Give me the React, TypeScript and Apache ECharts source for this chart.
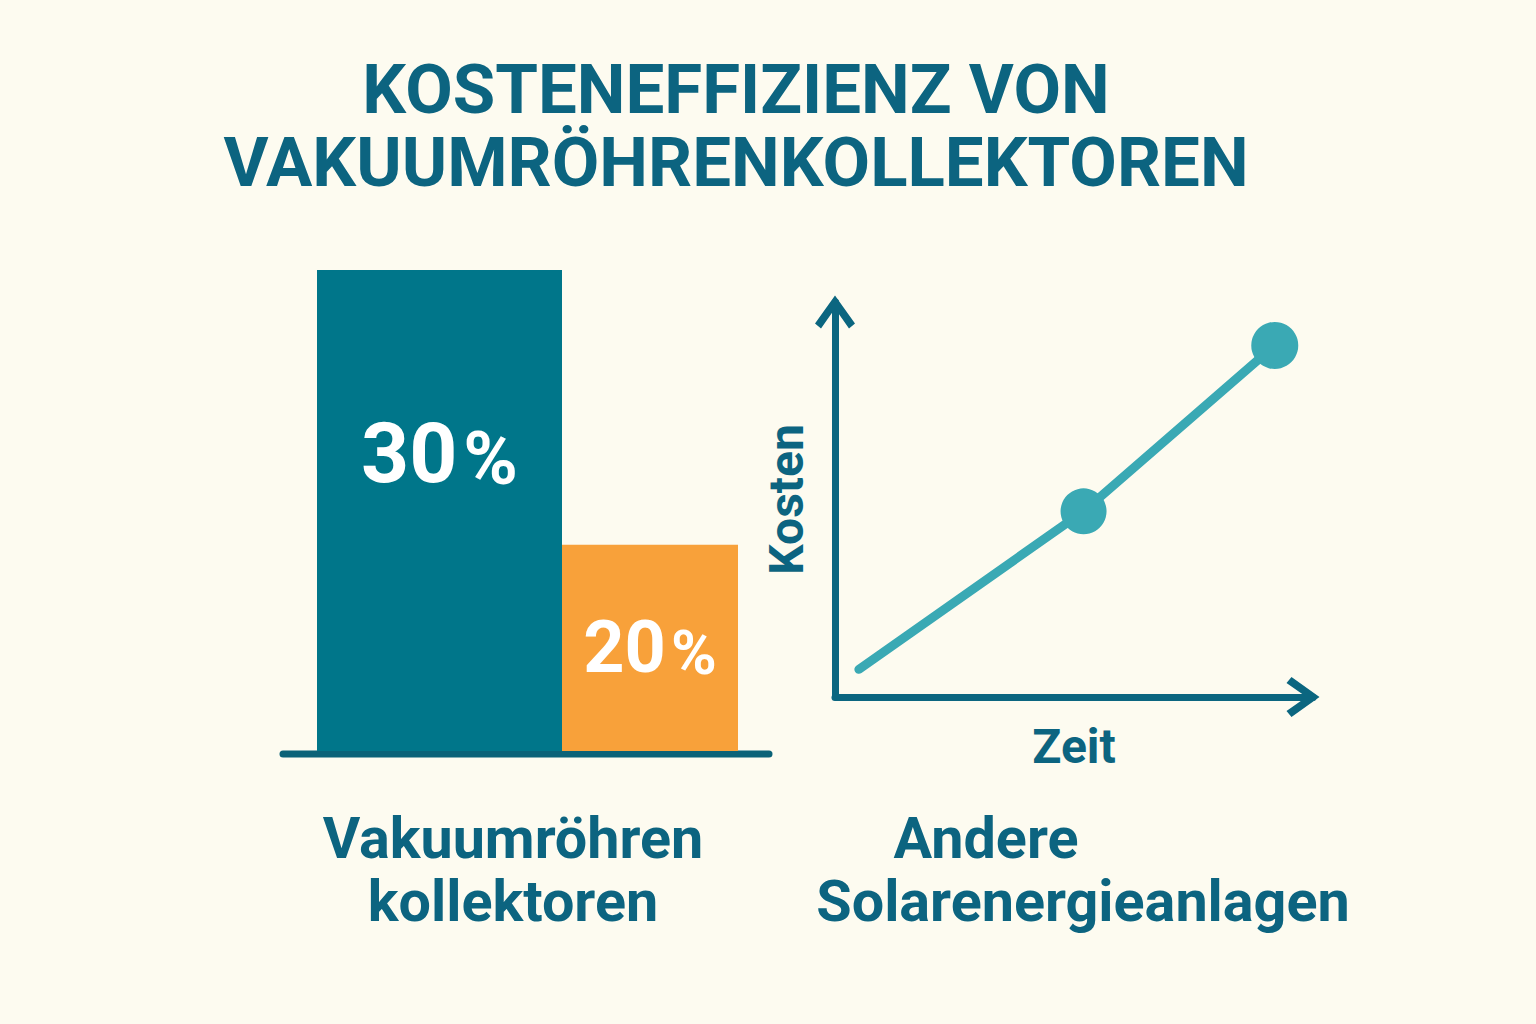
import React, { useEffect, useRef } from 'react';
import * as echarts from 'echarts';

// bar part
const barNames = ['Vakuumröhren kollektoren', 'Andere Solarenergieanlagen'];
const barValues = [30, 20];
const barColors = ['#00768a', '#f8a13a'];

// line part (Kosten über Zeit)
const timePoints = [0.5, 5.2, 9.2];
const costPoints = [0.7, 4.7, 8.9];

const titleLines = ['KOSTENEFFIZIENZ VON', 'VAKUUMRÖHRENKOLLEKTOREN'];
const leftLabel = ['Vakuumröhren', 'kollektoren'];
const rightLabel = ['Andere', 'Solarenergieanlagen'];

const FONT = 'Roboto, "Noto Sans", sans-serif';
const DARK = '#0c6480';
const AXIS = '#0b6680';
const LINE = '#3aa9b4';
const chevron = 'path://M20 0L40 28L34 33L20 13L6 33L0 28Z';

const App: React.FC = () => {
    const chartRef = useRef<HTMLDivElement>(null);

    useEffect(() => {
        document.body.style.margin = '0';
        if (!chartRef.current) return;
        const chart = echarts.init(chartRef.current, undefined, { renderer: 'svg' });

        const barLabel = (big: number, small: number, gap: number, extra: any) => ({
            show: true,
            color: '#fff',
            fontFamily: FONT,
            formatter: (p: any) => `{n|${p.value}}{p|%}`,
            rich: {
                n: { fontSize: big, fontWeight: 'bold', color: '#fff', fontFamily: FONT, verticalAlign: 'bottom' },
                p: { fontSize: small, fontWeight: 'bold', color: '#fff', fontFamily: FONT, verticalAlign: 'bottom', padding: [0, 0, 0, gap] },
            },
            ...extra,
        });

        const valueAxisBase = {
            type: 'value',
            min: 0,
            max: 10,
            splitLine: { show: false },
            axisTick: { show: false },
            axisLabel: { show: false },
            axisLine: {
                show: true,
                symbol: ['none', chevron],
                symbolSize: [40, 33],
                symbolOffset: [0, -10],
                lineStyle: { color: AXIS, width: 7, cap: 'round' },
            },
            nameLocation: 'middle',
            nameTextStyle: { color: DARK, fontSize: 48, fontWeight: 'bold', fontFamily: FONT },
        };

        const options = {
            animation: false,
            backgroundColor: '#fdfbf0',
            title: {
                text: titleLines.join('\n'),
                left: 736,
                top: 53,
                textAlign: 'center',
                padding: 0,
                textStyle: { color: DARK, fontSize: 69, fontWeight: 'bold', fontFamily: FONT, lineHeight: 73 },
            },
            grid: [
                { left: 317, top: 270, width: 245, height: 481 },
                { left: 562, top: 270, width: 176, height: 481 },
                { left: 835, top: 302, width: 478, height: 395 },
            ],
            xAxis: [
                { type: 'category', gridIndex: 0, data: [barNames[0]], show: false },
                { type: 'category', gridIndex: 1, data: [barNames[1]], show: false },
                { ...valueAxisBase, gridIndex: 2, name: 'Zeit', nameGap: 25 },
            ],
            yAxis: [
                { type: 'value', gridIndex: 0, min: 12.5, max: 30, show: false },
                { type: 'value', gridIndex: 1, min: 12.5, max: 30, show: false },
                { ...valueAxisBase, gridIndex: 2, name: 'Kosten', nameGap: 25, nameRotate: 90 },
            ],
            series: [
                {
                    type: 'bar',
                    xAxisIndex: 0,
                    yAxisIndex: 0,
                    barWidth: '100%',
                    clip: true,
                    itemStyle: { color: barColors[0] },
                    label: barLabel(84, 74, 6, { position: 'insideTop', distance: 141 }),
                    data: [barValues[0]],
                },
                {
                    type: 'bar',
                    xAxisIndex: 1,
                    yAxisIndex: 1,
                    barWidth: '100%',
                    clip: true,
                    itemStyle: { color: barColors[1] },
                    label: barLabel(72, 62, 5, { position: 'inside' }),
                    data: [barValues[1]],
                },
                {
                    type: 'line',
                    xAxisIndex: 2,
                    yAxisIndex: 2,
                    symbol: 'circle',
                    lineStyle: { color: LINE, width: 9, cap: 'round' },
                    itemStyle: { color: LINE },
                    data: timePoints.map((t, i) => ({
                        value: [t, costPoints[i]],
                        symbolSize: i === 0 ? 0 : i === 1 ? 46 : 47,
                    })),
                },
            ],
            graphic: [
                {
                    type: 'line',
                    shape: { x1: 283, y1: 754, x2: 769, y2: 754 },
                    style: { stroke: '#0b6278', lineWidth: 7, lineCap: 'round' },
                },
                ...leftLabel.map((t, i) => ({
                    type: 'text',
                    x: 513,
                    y: 838 + i * 63,
                    style: { text: t, fill: DARK, font: `bold 57.5px ${FONT}`, align: 'center', verticalAlign: 'middle' },
                })),
                ...rightLabel.map((t, i) => ({
                    type: 'text',
                    x: i === 0 ? 986 : 1083,
                    y: 838 + i * 63,
                    style: { text: t, fill: DARK, font: `bold 57.5px ${FONT}`, align: 'center', verticalAlign: 'middle' },
                })),
            ],
        };

        chart.setOption(options as any);

        return () => {
            chart.dispose();
        };
    }, []);

    return <div ref={chartRef} style={{ width: '1536px', height: '1024px' }} />;
};

export default App;
